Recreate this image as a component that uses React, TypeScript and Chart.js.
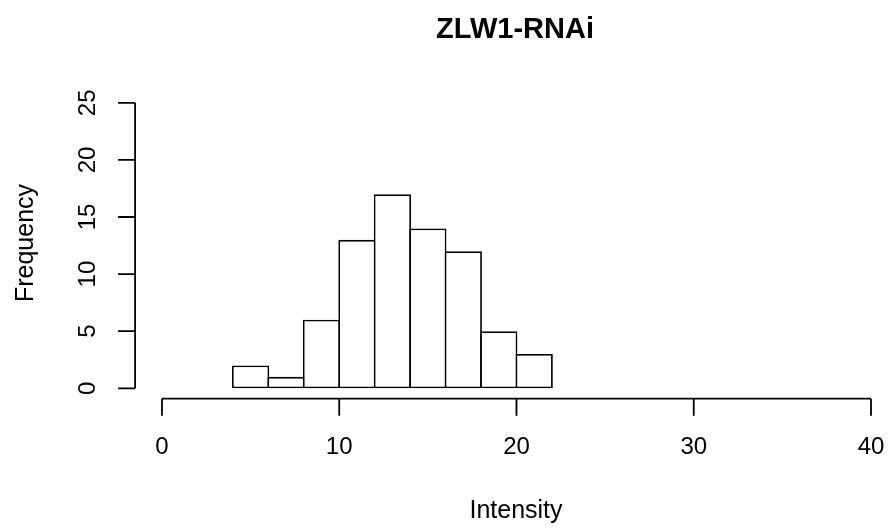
import React, { useEffect, useRef } from "react";
import { Chart, registerables } from "chart.js";

Chart.register(...registerables);

const binStarts = [4, 6, 8, 10, 12, 14, 16, 18, 20];
const binWidth = 2;
const counts = [2, 1, 6, 13, 17, 14, 12, 5, 3];
const xTicks = [0, 10, 20, 30, 40];
const yTicks = [0, 5, 10, 15, 20, 25];
const titleText = "ZLW1-RNAi";
const xLabel = "Intensity";
const yLabel = "Frequency";

const FONT = "'Liberation Sans', Arial, Helvetica, sans-serif";
const LW = 1.8;

const rAxesPlugin = {
  id: "rAxes",
  afterDraw(chart: any) {
    const { ctx, chartArea } = chart;
    const x = chart.scales.x;
    const y = chart.scales.y;
    ctx.save();
    ctx.strokeStyle = "#000";
    ctx.fillStyle = "#000";
    ctx.lineWidth = LW;
    const tick = 17;

    // x axis
    const axY = chartArea.bottom - 1;
    ctx.beginPath();
    ctx.moveTo(x.getPixelForValue(xTicks[0]), axY);
    ctx.lineTo(x.getPixelForValue(xTicks[xTicks.length - 1]), axY);
    xTicks.forEach((v) => {
      const px = x.getPixelForValue(v);
      ctx.moveTo(px, axY);
      ctx.lineTo(px, axY + tick);
    });
    ctx.stroke();

    // y axis
    const axX = chartArea.left + 1.5;
    ctx.beginPath();
    ctx.moveTo(axX, y.getPixelForValue(yTicks[0]));
    ctx.lineTo(axX, y.getPixelForValue(yTicks[yTicks.length - 1]));
    yTicks.forEach((v) => {
      const py = y.getPixelForValue(v);
      ctx.moveTo(axX, py);
      ctx.lineTo(axX - tick, py);
    });
    ctx.stroke();

    // tick labels
    ctx.font = `24px ${FONT}`;
    ctx.textAlign = "center";
    ctx.textBaseline = "middle";
    xTicks.forEach((v) => {
      ctx.fillText(String(v), x.getPixelForValue(v), 447);
    });
    yTicks.forEach((v) => {
      ctx.save();
      ctx.translate(88, y.getPixelForValue(v));
      ctx.rotate(-Math.PI / 2);
      ctx.fillText(String(v), 0, 0);
      ctx.restore();
    });

    // axis titles
    ctx.font = `25px ${FONT}`;
    ctx.textBaseline = "alphabetic";
    ctx.fillText(xLabel, 516, 518);
    ctx.save();
    ctx.translate(33, 243);
    ctx.rotate(-Math.PI / 2);
    ctx.fillText(yLabel, 0, 0);
    ctx.restore();

    // main title
    ctx.font = `bold 29px ${FONT}`;
    ctx.fillText(titleText, 515, 38);
    ctx.restore();
  },
};

export default function App() {
  const ref = useRef<HTMLCanvasElement | null>(null);

  useEffect(() => {
    if (!ref.current) return;
    const pxPerUnit = (871 - 162) / 40;
    const barPct = 1 + LW / (binWidth * pxPerUnit);
    const chart = new Chart(ref.current, {
      type: "bar",
      data: {
        datasets: [
          {
            data: binStarts.map((s, i) => ({ x: s + binWidth / 2, y: counts[i] })),
            backgroundColor: "#ffffff",
            borderColor: "#000000",
            borderWidth: LW,
            borderSkipped: false,
            inflateAmount: 0,
            barPercentage: barPct,
            categoryPercentage: 1,
          } as any,
        ],
      },
      options: {
        animation: false,
        responsive: false,
        maintainAspectRatio: false,
        layout: { padding: { left: 133.6, right: 4, top: 91.4, bottom: 131.3 } },
        plugins: { legend: { display: false }, tooltip: { enabled: false }, title: { display: false } },
        scales: {
          x: { type: "linear", offset: false, min: -1.6, max: (885 - 162) / pxPerUnit, display: false },
          y: { type: "linear", min: -1, max: 26, display: false },
        },
      },
      plugins: [rAxesPlugin],
    });
    return () => chart.destroy();
  }, []);

  return (
    <div style={{ position: "fixed", left: 0, top: 0, width: 889, height: 531, background: "#fff" }}>
      <canvas ref={ref} width={889} height={531} style={{ width: 889, height: 531, display: "block" }} />
    </div>
  );
}
